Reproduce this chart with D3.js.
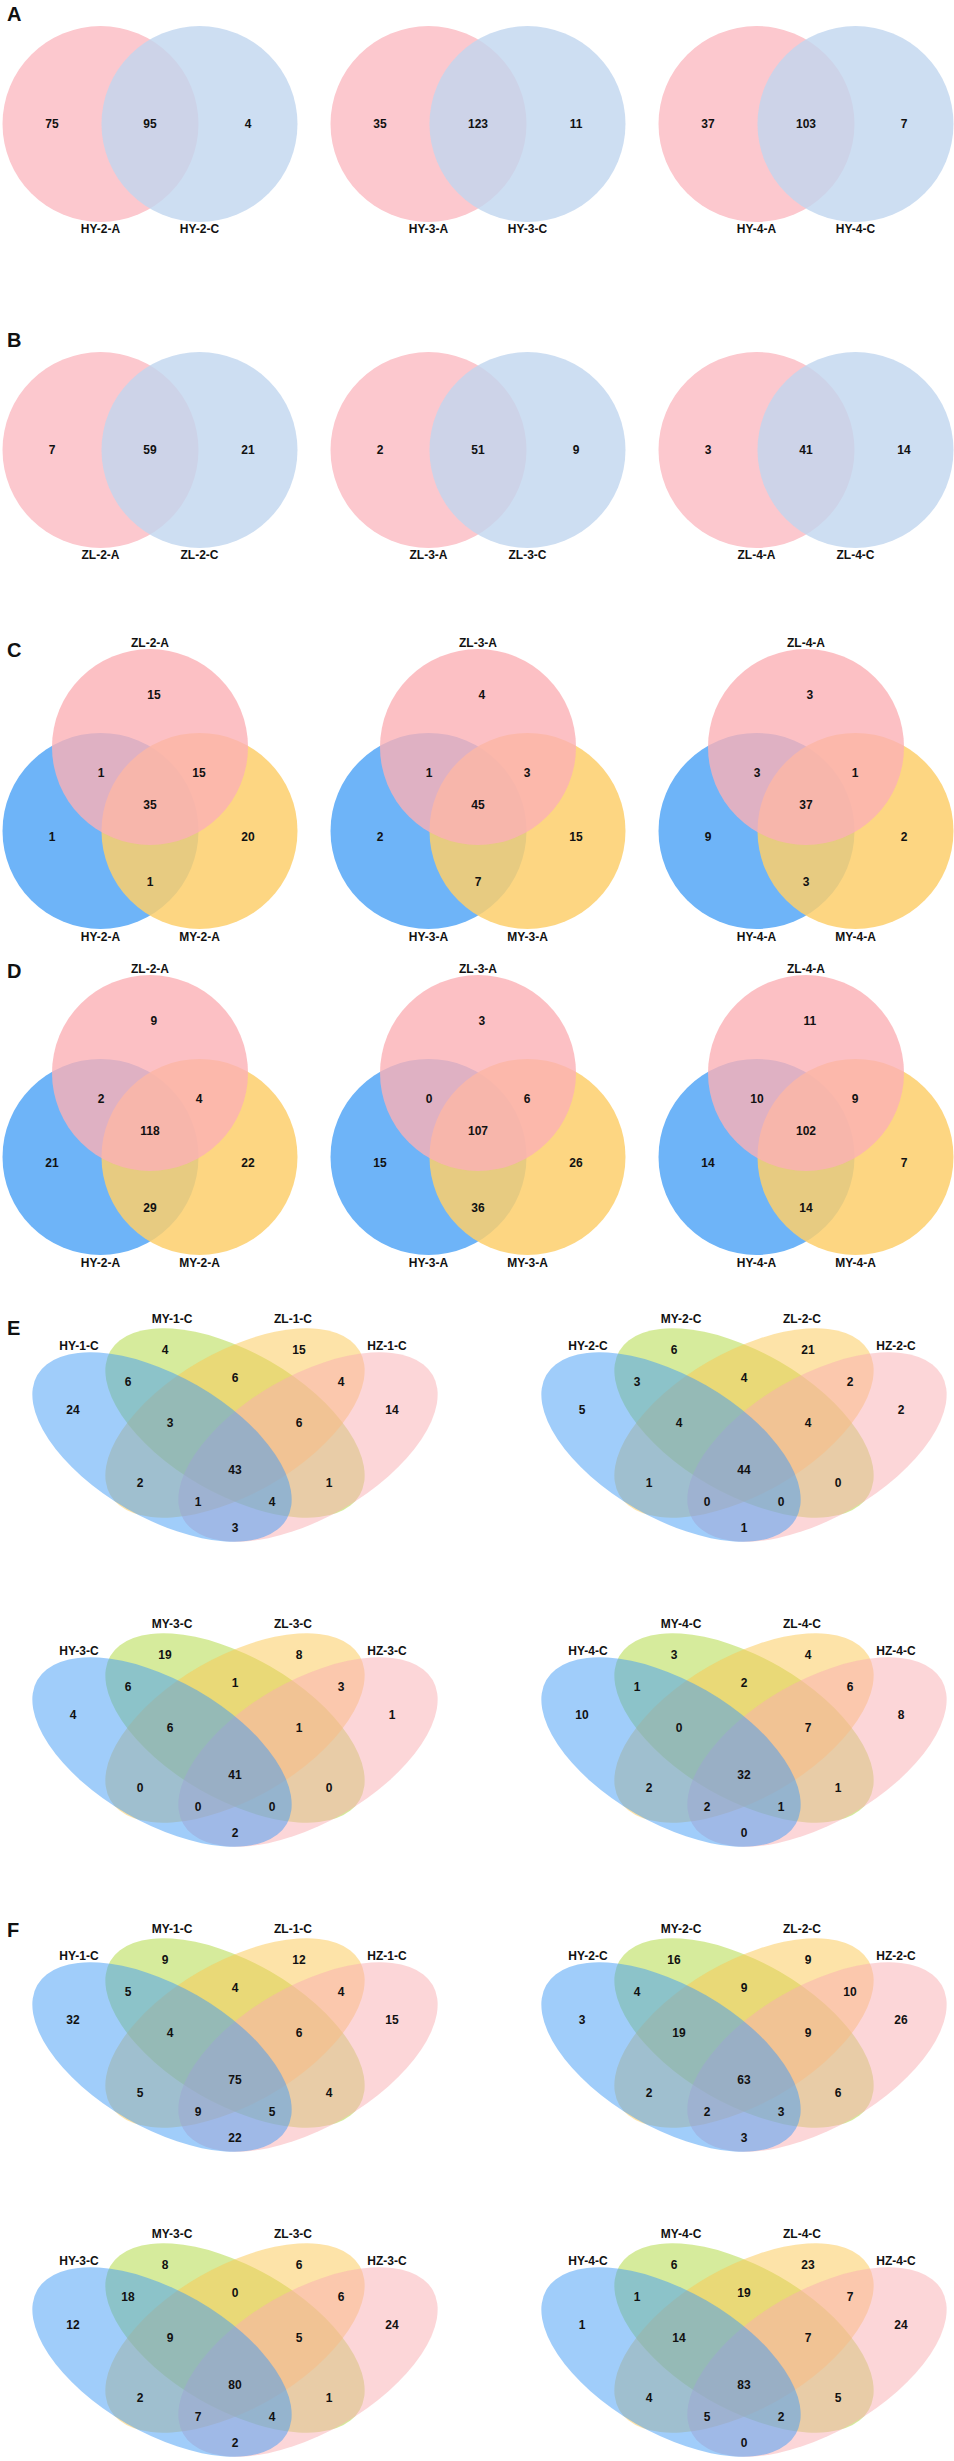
<!DOCTYPE html>
<html>
<head>
<meta charset="utf-8">
<script src="https://cdn.jsdelivr.net/npm/d3@7"></script>
<style>
  body { margin: 0; background: #fff; }
  text { font-family: "Liberation Sans", Arial, sans-serif; font-weight: bold; fill: #111; }
</style>
</head>
<body>
<div id="chart"></div>
<script>
// panel A: two sets, counts are [left only, shared, right only]

var setsA = [["HY-2-A", "HY-2-C"], ["HY-3-A", "HY-3-C"], ["HY-4-A", "HY-4-C"]];
var countsA = [[75, 95, 4], [35, 123, 11], [37, 103, 7]];

// panel B

var setsB = [["ZL-2-A", "ZL-2-C"], ["ZL-3-A", "ZL-3-C"], ["ZL-4-A", "ZL-4-C"]];
var countsB = [[7, 59, 21], [2, 51, 9], [3, 41, 14]];

// panels C and D: three sets [top, left, right]
// counts are [top, top+left, top+right, all, left, right, left+right]

var setsC = [["ZL-2-A", "HY-2-A", "MY-2-A"], ["ZL-3-A", "HY-3-A", "MY-3-A"], ["ZL-4-A", "HY-4-A", "MY-4-A"]];
var countsC = [[15, 1, 15, 35, 1, 20, 1], [4, 1, 3, 45, 2, 15, 7], [3, 3, 1, 37, 9, 2, 3]];
var setsD = setsC;
var countsD = [[9, 2, 4, 118, 21, 22, 29], [3, 0, 6, 107, 15, 26, 36], [11, 10, 9, 102, 14, 7, 14]];

// panels E and F: four sets [HY, MY, ZL, HZ]
// counts are [HY, MY, ZL, HZ, HY+MY, MY+ZL, ZL+HZ, HY+MY+ZL, MY+ZL+HZ, all,
//             HY+ZL, MY+HZ, HY+ZL+HZ, HY+MY+HZ, HY+HZ]

var setsE = [1, 2, 3, 4].map(function(k) { return ["HY-" + k + "-C", "MY-" + k + "-C", "ZL-" + k + "-C", "HZ-" + k + "-C"]; });
var countsE = [
  [24, 4, 15, 14, 6, 6, 4, 3, 6, 43, 2, 1, 1, 4, 3],
  [5, 6, 21, 2, 3, 4, 2, 4, 4, 44, 1, 0, 0, 0, 1],
  [4, 19, 8, 1, 6, 1, 3, 6, 1, 41, 0, 0, 0, 0, 2],
  [10, 3, 4, 8, 1, 2, 6, 0, 7, 32, 2, 1, 2, 1, 0]
];
var setsF = setsE;
var countsF = [
  [32, 9, 12, 15, 5, 4, 4, 4, 6, 75, 5, 4, 9, 5, 22],
  [3, 16, 9, 26, 4, 9, 10, 19, 9, 63, 2, 6, 2, 3, 3],
  [12, 8, 6, 24, 18, 0, 6, 9, 5, 80, 2, 1, 7, 4, 2],
  [1, 6, 23, 24, 1, 19, 7, 14, 7, 83, 4, 5, 5, 2, 0]
];

var panelLetters = ["A", "B", "C", "D", "E", "F"];

// layouts, in units of the circle radius (2 and 3 sets) or of 100px (4 sets)

var twoLayout = {
  circles: [[-0.505, 0], [0.505, 0]],
  counts: [[-1, 0], [0, 0], [1, 0]],
  labels: [[-0.505, 1.07], [0.505, 1.07]]
};

var threeLayout = {
  circles: [[-0.505, 0.857], [0.505, 0.857], [0, 0]],   // blue, yellow, pink (top drawn last)
  counts: [[0.04, -0.535], [-0.5, 0.262], [0.5, 0.262], [0, 0.587], [-1, 0.922], [1, 0.922], [0, 1.38]],
  labels: [[0, -1.061], [-0.505, 1.939], [0.505, 1.939]]
};

var fourLayout = {
  // draw order: MY, ZL, HZ, HY
  ellipses: [
    {set: 1, x: 0, y: 0, rot: 30},
    {set: 2, x: 0, y: 0, rot: -30},
    {set: 3, x: 0.73, y: 0.24, rot: -30},
    {set: 0, x: -0.73, y: 0.24, rot: 30}
  ],
  rx: 1.44, ry: 0.71,
  counts: [[-1.62, -0.13], [-0.70, -0.73], [0.64, -0.73], [1.57, -0.13],
           [-1.07, -0.41], [0, -0.45], [1.06, -0.41],
           [-0.65, 0], [0.64, 0], [0, 0.47],
           [-0.95, 0.60], [0.94, 0.60],
           [-0.37, 0.79], [0.37, 0.79], [0, 1.05]],
  labels: [[-1.56, -0.77], [-0.63, -1.04], [0.58, -1.04], [1.52, -0.77]]
};

// colours

var twoFill = [{c: "#fcc8ce", o: 1}, {c: "rgb(192,214,239)", o: 0.8}];
var threeFill = [{c: "#6eb4f8", o: 1}, {c: "rgb(253,207,108)", o: 0.85}, {c: "rgb(251,176,181)", o: 0.8}];
var fourFill = [{c: "rgb(65,155,245)", o: 0.5}, {c: "rgb(173,215,57)", o: 0.5}, {c: "rgb(251,199,81)", o: 0.5}, {c: "rgb(249,173,177)", o: 0.5}];

// page

var width = 954, height = 2461;
var radius = 98;
var cols3 = [150, 478, 806];
var cols2 = [235, 744];

var svg = d3.select("#chart").append("svg")
  .attr("width", width)
  .attr("height", height);

// panel letters

var letterY = [21, 347, 657, 978, 1335, 1937];

svg.selectAll("text.letter")
  .data(panelLetters)
  .enter()
  .append("text")
  .attr("class", "letter")
  .attr("x", 7)
  .attr("y", function(d, i) { return letterY[i]; })
  .style("font-size", "20px")
  .text(function(d) { return d; });

// rows

cols3.forEach(function(cx, i) { drawTwo(cx, 124, setsA[i], countsA[i]); });
cols3.forEach(function(cx, i) { drawTwo(cx, 450, setsB[i], countsB[i]); });
cols3.forEach(function(cx, i) { drawThree(cx, 747, setsC[i], countsC[i]); });
cols3.forEach(function(cx, i) { drawThree(cx, 1073, setsD[i], countsD[i]); });
countsE.forEach(function(c, i) { drawFour(cols2[i % 2], 1423 + 305 * Math.floor(i / 2), setsE[i], c); });
countsF.forEach(function(c, i) { drawFour(cols2[i % 2], 2033 + 305 * Math.floor(i / 2), setsF[i], c); });

// shared helpers

function unitScales(cx, cy, unit)
{
  return {
    x: d3.scaleLinear().domain([-1, 1]).range([cx - unit, cx + unit]),
    y: d3.scaleLinear().domain([-1, 1]).range([cy - unit, cy + unit])
  };
}

function addTexts(g, s, positions, values)
{
  g.selectAll("text.t")
    .data(values)
    .enter()
    .append("text")
    .attr("class", "t")
    .attr("x", function(d, i) { return s.x(positions[i][0]); })
    .attr("y", function(d, i) { return s.y(positions[i][1]); })
    .attr("text-anchor", "middle")
    .attr("dominant-baseline", "central")
    .style("font-size", "12px")
    .text(function(d) { return d; });
}

// two circles

function drawTwo(cx, cy, names, values)
{
  var s = unitScales(cx, cy, radius);
  var g = svg.append("g");

  g.selectAll("circle")
    .data(twoLayout.circles)
    .enter()
    .append("circle")
    .attr("cx", function(d) { return s.x(d[0]); })
    .attr("cy", function(d) { return s.y(d[1]); })
    .attr("r", s.x(1) - s.x(0))
    .style("fill", function(d, i) { return twoFill[i].c; })
    .style("fill-opacity", function(d, i) { return twoFill[i].o; });

  addTexts(g.append("g"), s, twoLayout.counts, values);
  addTexts(g.append("g"), s, twoLayout.labels, names);
}

// three circles

function drawThree(cx, cy, names, values)
{
  var s = unitScales(cx, cy, radius);
  var g = svg.append("g");

  g.selectAll("circle")
    .data(threeLayout.circles)
    .enter()
    .append("circle")
    .attr("cx", function(d) { return s.x(d[0]); })
    .attr("cy", function(d) { return s.y(d[1]); })
    .attr("r", s.x(1) - s.x(0))
    .style("fill", function(d, i) { return threeFill[i].c; })
    .style("fill-opacity", function(d, i) { return threeFill[i].o; });

  addTexts(g.append("g"), s, threeLayout.counts, values);
  addTexts(g.append("g"), s, threeLayout.labels, names);
}

// four ellipses

function drawFour(cx, cy, names, values)
{
  var s = unitScales(cx, cy, 100);
  var g = svg.append("g");
  var rx = s.x(fourLayout.rx) - s.x(0),
      ry = s.x(fourLayout.ry) - s.x(0);

  g.selectAll("ellipse")
    .data(fourLayout.ellipses)
    .enter()
    .append("ellipse")
    .attr("rx", rx)
    .attr("ry", ry)
    .attr("transform", function(d) { return "translate(" + s.x(d.x) + "," + s.y(d.y) + ") rotate(" + d.rot + ")"; })
    .style("fill", function(d) { return fourFill[d.set].c; })
    .style("fill-opacity", function(d) { return fourFill[d.set].o; });

  addTexts(g.append("g"), s, fourLayout.counts, values);
  addTexts(g.append("g"), s, fourLayout.labels, names);
}
</script>
</body>
</html>
